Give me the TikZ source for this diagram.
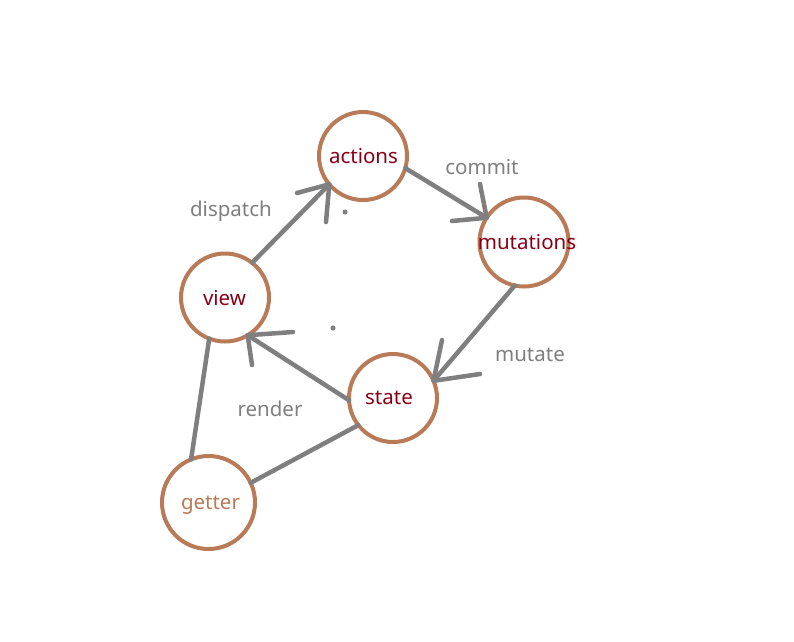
\documentclass[tikz,border=0pt]{standalone}
\usepackage{fontspec}
\setmainfont{Noto Sans}
\definecolor{ringc}{RGB}{185,122,87}
\definecolor{linec}{RGB}{127,127,127}
\definecolor{darkr}{RGB}{136,0,21}
\begin{document}
\begin{tikzpicture}[x=1pt,y=-1pt,
  ring/.style={circle,draw=ringc,line width=4pt,minimum size=88pt,inner sep=0pt,outer sep=0pt},
  ntext/.style={text=darkr,font=\fontsize{20.5}{24}\selectfont,inner sep=0pt},
  gtext/.style={text=ringc,font=\fontsize{20.5}{24}\selectfont,inner sep=0pt},
  elabel/.style={text=linec,font=\fontsize{20.5}{24}\selectfont,inner sep=0pt},
  conn/.style={draw=linec,line width=4.5pt,line cap=round,line join=round}]
\path[use as bounding box,fill=white] (0,0) rectangle (794,641);

\node[ring] (actions) at (363,156) {};
\node[ring,minimum size=89pt] (mutations) at (524,242) {};
\node[ring] (view) at (225,297.5) {};
\node[ring] (state) at (393,398) {};
\node[ring,minimum size=93pt] (getter) at (208.5,502.5) {};

\node[ntext] (tactions) at (363.5,156) {actions};
\node[ntext] (tmutations) at (527,242) {mutations};
\node[ntext] (tview) at (224.5,298.5) {view};
\node[ntext] (tstate) at (389,397.5) {state};
\node[gtext] (tgetter) at (210.5,505.5) {getter};

\node[elabel] (ldispatch) at (231,211) {dispatch};
\node[elabel] (lcommit) at (482,167) {commit};
\node[elabel] (lmutate) at (530,355) {mutate};
\node[elabel] (lrender) at (270,409) {render};

% barb ends
\coordinate (b1a) at (297,193);
\coordinate (b1b) at (326,222);
\coordinate (b2a) at (480,184);
\coordinate (b2b) at (452,221);
\coordinate (b3a) at (442,340);
\coordinate (b3b) at (480,374);
\coordinate (b4a) at (293,332);
\coordinate (b4b) at (252,365);

% connectors
\draw[conn] (view.52.7) -- (actions.220.5);
\draw[conn] (b1a) -- (actions.220.5) -- (b1b);
\draw[conn] (actions.344.5) -- (mutations.147);
\draw[conn] (b2a) -- (mutations.147) -- (b2b);
\draw[conn] (mutations.258.7) -- (state.23.4);
\draw[conn] (b3a) -- (state.23.4) -- (b3b);
\draw[conn] (state.183.8) -- (view.301.5);
\draw[conn] (b4a) -- (view.301.5) -- (b4b);
\draw[conn] (view.249.7) -- (getter.112.2);
\draw[conn] (getter.25.3) -- (state.218.9);

% stray dots
\fill[linec] (345,212) circle (2.5pt);
\fill[linec] (333,328) circle (2.5pt);
\end{tikzpicture}
\end{document}
